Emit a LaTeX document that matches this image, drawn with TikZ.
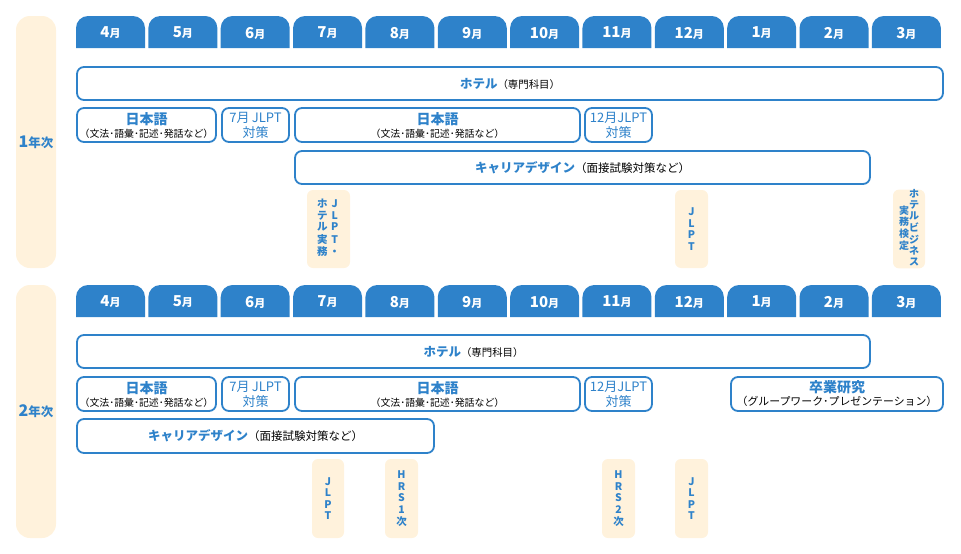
\documentclass[tikz,border=0pt]{standalone}
\usepackage{fontspec}
\setmainfont{Noto Sans CJK JP}
\usetikzlibrary{positioning}
\definecolor{tabblue}{HTML}{2E82CA}
\definecolor{cream}{HTML}{FFF2DC}

\begin{document}
\begin{tikzpicture}[x=1pt,y=-1pt,
  course/.style={draw=tabblue,line width=1.8pt,rounded corners=7pt,fill=white,align=center,inner sep=0pt,text=tabblue},
  tag/.style={fill=cream,rounded corners=6pt,inner sep=0pt,text=tabblue,align=center,font=\fontsize{10.5}{11.6}\selectfont\bfseries},
  yearbar/.style={fill=cream,rounded corners=14pt,minimum width=40pt,inner sep=0pt,text=tabblue,font=\bfseries},
  monthlbl/.style={text=white,font=\bfseries,inner sep=0pt}]
\useasboundingbox (0,0) rectangle (961,554);
% Jahrgang
\node[yearbar,minimum height=252pt] (year1) at (36,142) {{\fontsize{16}{16}\selectfont 1}{\fontsize{12.5}{12.5}\selectfont 年次}};
\node[yearbar,minimum height=253pt] (year2) at (36,411.5) {{\fontsize{16}{16}\selectfont 2}{\fontsize{12.5}{12.5}\selectfont 年次}};
% Monate
\foreach \yy/\r in {16/A,285/B}{
  \foreach \m [count=\i from 0] in {4,5,6,7,8,9,10,11,12,1,2,3}{
    \pgfmathsetmacro\xx{76+\i*72.35}
    \fill[tabblue] (\xx,\yy+32) [rounded corners=12pt] -- (\xx,\yy) -- (\xx+69,\yy) [sharp corners] -- (\xx+69,\yy+32) -- cycle;
    \node[monthlbl] (m\r\i) at (\xx+34.5,\yy+17) {{\fontsize{15}{15}\selectfont\m}{\fontsize{11}{11}\selectfont 月}};
  }
}
% 1. Jahr
\node[course,minimum width=866pt,minimum height=33pt] (hotelA) at (510,83.5)
  {{\bfseries\fontsize{12.5}{14}\selectfont ホテル}{\fontsize{10.4}{11}\selectfont\color{black}（専門科目）}};
\node[course,minimum width=139pt,minimum height=34pt] (jpA1) at (146.5,125)
  {{\bfseries\fontsize{14}{15}\selectfont 日本語}\\[1pt]{\fontsize{9.9}{11}\selectfont\color{black}（文法･語彙･記述･発話など）}};
\node[course,minimum width=67pt,minimum height=34pt,font=\fontsize{13}{15}\selectfont] (jlptA1) at (255.5,125) {7月\,JLPT\\対策};
\node[course,minimum width=285pt,minimum height=34pt] (jpA2) at (437.5,125)
  {{\bfseries\fontsize{14}{15}\selectfont 日本語}\\[1pt]{\fontsize{9.9}{11}\selectfont\color{black}（文法･語彙･記述･発話など）}};
\node[course,minimum width=67pt,minimum height=34pt,font=\fontsize{13}{15}\selectfont] (jlptA2) at (618.5,125) {12月JLPT\\対策};
\node[course,minimum width=575pt,minimum height=33pt] (careerA) at (582.5,167.5)
  {{\bfseries\fontsize{12.5}{14}\selectfont キャリアデザイン}{\fontsize{11.5}{13}\selectfont\color{black}（面接試験対策など）}};
\node[tag,minimum width=43pt,minimum height=78pt] (tagA1) at (328.5,229)
  {\begin{tabular}{@{}c@{\hspace{2pt}}c@{}}ホ&J\\テ&L\\ル&P\\実&T\\務&・\end{tabular}};
\node[tag,minimum width=33pt,minimum height=78pt] (tagA2) at (691.5,229) {J\\L\\P\\T};
\node[tag,minimum width=32pt,minimum height=78pt,font=\fontsize{10}{10.6}\selectfont\bfseries] (tagA3) at (909,229)
  {\begin{tabular}[c]{@{}c@{}}実\\務\\検\\定\end{tabular}\hspace{0pt}\begin{tabular}[c]{@{}c@{}}ホ\\テ\\ル\\ビ\\ジ\\ネ\\ス\end{tabular}};
% 2. Jahr
\node[course,minimum width=793pt,minimum height=33pt] (hotelB) at (473.5,351.5)
  {{\bfseries\fontsize{12.5}{14}\selectfont ホテル}{\fontsize{10.4}{11}\selectfont\color{black}（専門科目）}};
\node[course,minimum width=139pt,minimum height=34pt] (jpB1) at (146.5,394)
  {{\bfseries\fontsize{14}{15}\selectfont 日本語}\\[1pt]{\fontsize{9.9}{11}\selectfont\color{black}（文法･語彙･記述･発話など）}};
\node[course,minimum width=67pt,minimum height=34pt,font=\fontsize{13}{15}\selectfont] (jlptB1) at (255.5,394) {7月\,JLPT\\対策};
\node[course,minimum width=285pt,minimum height=34pt] (jpB2) at (437.5,394)
  {{\bfseries\fontsize{14}{15}\selectfont 日本語}\\[1pt]{\fontsize{9.9}{11}\selectfont\color{black}（文法･語彙･記述･発話など）}};
\node[course,minimum width=67pt,minimum height=34pt,font=\fontsize{13}{15}\selectfont] (jlptB2) at (618.5,394) {12月JLPT\\対策};
\node[course,minimum width=212pt,minimum height=34pt] (gradB) at (837,394)
  {{\bfseries\fontsize{14}{15}\selectfont 卒業研究}\\[1pt]{\fontsize{10.9}{11}\selectfont\color{black}（グループワーク･プレゼンテーション）}};
\node[course,minimum width=357pt,minimum height=34pt] (careerB) at (255.5,436)
  {{\bfseries\fontsize{12.5}{14}\selectfont キャリアデザイン}{\fontsize{11.5}{13}\selectfont\color{black}（面接試験対策など）}};
\node[tag,minimum width=32pt,minimum height=79pt] (tagB1) at (328,498.5) {J\\L\\P\\T};
\node[tag,minimum width=33pt,minimum height=79pt] (tagB2) at (401.5,498.5) {H\\R\\S\\1\\次};
\node[tag,minimum width=33pt,minimum height=79pt] (tagB3) at (618.5,498.5) {H\\R\\S\\2\\次};
\node[tag,minimum width=33pt,minimum height=79pt] (tagB4) at (691.5,498.5) {J\\L\\P\\T};
\end{tikzpicture}
\end{document}
